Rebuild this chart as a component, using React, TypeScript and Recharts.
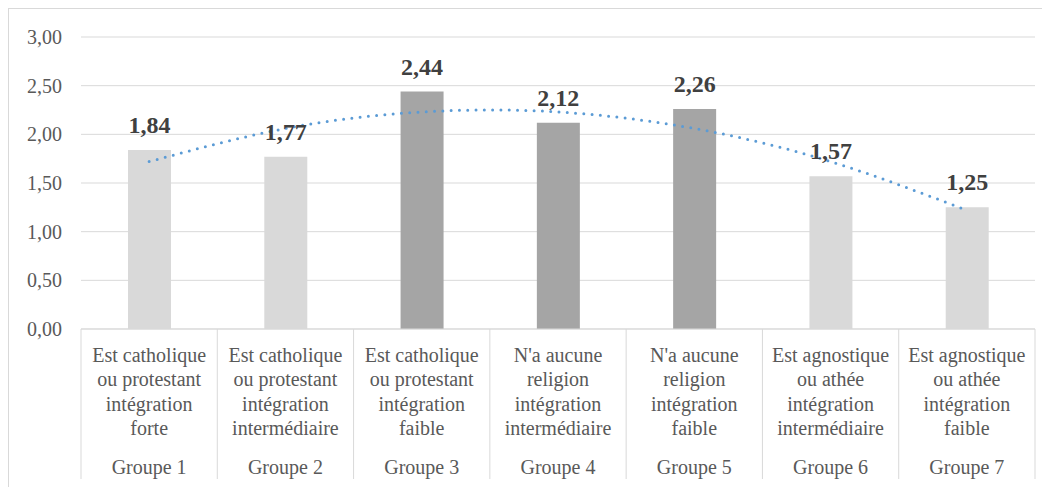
import React from "react";
import { ComposedChart, Bar, Line, XAxis, YAxis, CartesianGrid, Cell, LabelList } from "recharts";

const categoryLines: string[][] = [
  ["Est catholique", "ou protestant", "intégration", "forte"],
  ["Est catholique", "ou protestant", "intégration", "intermédiaire"],
  ["Est catholique", "ou protestant", "intégration", "faible"],
  ["N'a aucune", "religion", "intégration", "intermédiaire"],
  ["N'a aucune", "religion", "intégration", "faible"],
  ["Est agnostique", "ou athée", "intégration", "intermédiaire"],
  ["Est agnostique", "ou athée", "intégration", "faible"],
];
const groups = ["Groupe 1", "Groupe 2", "Groupe 3", "Groupe 4", "Groupe 5", "Groupe 6", "Groupe 7"];
const values = [1.84, 1.77, 2.44, 2.12, 2.26, 1.57, 1.25];
const trendValues = [1.72, 2.06, 2.23, 2.23, 2.06, 1.72, 1.22];
const barColors = ["#D9D9D9", "#D9D9D9", "#A5A5A5", "#A5A5A5", "#A5A5A5", "#D9D9D9", "#D9D9D9"];
const yTicks = [0, 0.5, 1, 1.5, 2, 2.5, 3];

const data = groups.map((g, i) => ({
  name: g,
  value: values[i],
  trend: trendValues[i],
}));

const FONT = '"Liberation Serif", "Times New Roman", serif';
const CHART_W = 1041;
const CHART_H = 478;
const MARGIN = { top: 28, right: 15, bottom: 8, left: 0 };
const Y_W = 72;
const X_H = 150;
const PLOT_W = CHART_W - MARGIN.left - MARGIN.right - Y_W;

const fmt = (v: number) => v.toFixed(2).replace(".", ",");

const CategoryTick = (props: any) => {
  const { x, y, payload } = props;
  const idx = groups.indexOf(payload.value);
  const band = PLOT_W / groups.length;
  const left = x - band / 2;
  const lines = categoryLines[idx] || [];
  return (
    <g>
      <line x1={left} y1={y} x2={left} y2={y + X_H} stroke="#D9D9D9" strokeWidth={1} />
      {idx === groups.length - 1 && (
        <line x1={left + band} y1={y} x2={left + band} y2={y + X_H} stroke="#D9D9D9" strokeWidth={1} />
      )}
      <text textAnchor="middle" fontSize={20} fill="#595959" fontFamily={FONT}>
        {lines.map((l, i) => (
          <tspan key={i} x={x} y={y + 33 + i * 24.3}>
            {l}
          </tspan>
        ))}
      </text>
      <text x={x} y={y + 145} textAnchor="middle" fontSize={20} fill="#595959" fontFamily={FONT}>
        {groups[idx]}
      </text>
    </g>
  );
};

export default function App() {
  return (
    <div
      style={{
        width: 1042,
        height: 479,
        borderTop: "1px solid #D9D9D9",
        borderLeft: "1px solid #D9D9D9",
        boxSizing: "border-box",
        overflow: "hidden",
        background: "#fff",
        fontFamily: FONT,
      }}
    >
      <ComposedChart width={CHART_W} height={CHART_H} data={data} margin={MARGIN}>
        <CartesianGrid vertical={false} stroke="#D9D9D9" strokeWidth={1} />
        <XAxis
          dataKey="name"
          height={X_H}
          interval={0}
          tickSize={0}
          tickMargin={0}
          axisLine={{ stroke: "#D9D9D9", strokeWidth: 1 }}
          tickLine={false}
          tick={<CategoryTick />}
        />
        <YAxis
          width={Y_W}
          domain={[0, 3]}
          ticks={yTicks}
          tickFormatter={fmt}
          axisLine={false}
          tickLine={false}
          tickSize={0}
          tickMargin={19}
          tick={{ fontSize: 20, fill: "#595959", fontFamily: FONT }}
        />
        <Bar dataKey="value" barSize={43} isAnimationActive={false}>
          {values.map((_, i) => (
            <Cell key={i} fill={barColors[i]} />
          ))}
          <LabelList
            dataKey="value"
            position="top"
            offset={17}
            formatter={(v: any) => fmt(Number(v))}
            fontFamily={FONT}
            fontSize={24}
            fontWeight="bold"
            fill="#404040"
          />
        </Bar>
        <Line
          dataKey="trend"
          type="natural"
          stroke="#5B9BD5"
          strokeWidth={3}
          strokeDasharray="0 8.3"
          strokeLinecap="round"
          dot={false}
          activeDot={false}
          isAnimationActive={false}
        />
      </ComposedChart>
    </div>
  );
}
